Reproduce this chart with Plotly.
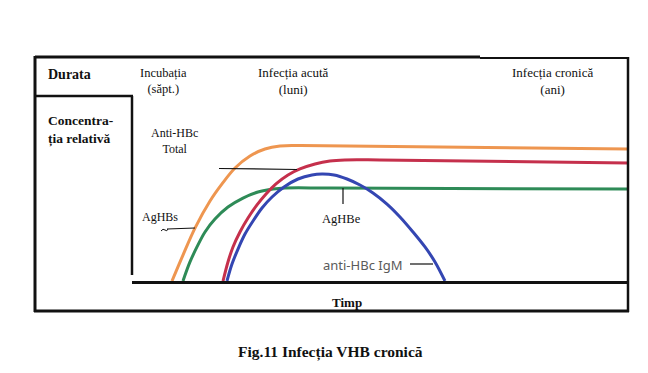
import plotly.graph_objects as go

# ---- data (time in arbitrary units 0..100, relative concentration 0..1) ----
anti_hbc_total_t = [8.06, 10.28, 12.70, 15.73, 18.15, 20.77, 23.79, 26.81, 29.84, 34.0, 100.0]
anti_hbc_total_c = [0.0, 0.173, 0.353, 0.533, 0.647, 0.753, 0.833, 0.88, 0.90, 0.903, 0.88]

red_t = [18.35, 19.35, 20.36, 21.77, 23.39, 25.2, 27.02, 29.03, 31.45, 33.87, 36.9, 39.9, 42.9, 50.0, 100.0]
red_c = [0.0, 0.127, 0.227, 0.327, 0.42, 0.507, 0.58, 0.647, 0.707, 0.747, 0.78, 0.80, 0.807, 0.807, 0.787]

aghbs_t = [10.28, 11.69, 13.10, 14.72, 16.73, 19.35, 22.38, 25.40, 28.43, 30.85, 40.0, 100.0]
aghbs_c = [0.0, 0.127, 0.227, 0.327, 0.413, 0.493, 0.553, 0.593, 0.613, 0.62, 0.62, 0.613]

igm_t = [19.15, 20.16, 21.37, 22.78, 24.4, 26.21, 28.23, 30.65, 33.47, 36.29, 38.31,
         40.73, 43.35, 45.97, 48.59, 51.41, 54.03, 56.65, 59.07, 61.09, 63.1]
igm_c = [0.0, 0.113, 0.213, 0.313, 0.40, 0.487, 0.56, 0.627, 0.68, 0.707, 0.713,
         0.707, 0.68, 0.64, 0.587, 0.513, 0.427, 0.327, 0.227, 0.127, 0.0]

W, H = 648, 373
SERIF = "Liberation Serif, Times New Roman, serif"


def px(x):
    return x / W


def py(y):
    return 1 - y / H


fig = go.Figure()
series = [
    (anti_hbc_total_t, anti_hbc_total_c, "#EE9650"),
    (aghbs_t, aghbs_c, "#2E8B57"),
    (red_t, red_c, "#C5304C"),
    (igm_t, igm_c, "#3446B2"),
]
for t, c, col in series:
    fig.add_trace(go.Scatter(x=t, y=c, mode="lines",
                             line=dict(color=col, width=3, shape="spline", smoothing=1.0),
                             hoverinfo="skip", showlegend=False))

shapes = []


def seg(x0, y0, x1, y1, w=2.5, col="#111111"):
    shapes.append(dict(type="line", xref="paper", yref="paper",
                       x0=px(x0), y0=py(y0), x1=px(x1), y1=py(y1),
                       line=dict(color=col, width=w)))


# frame
seg(35, 57, 480, 57, 3)
seg(480, 58, 629, 58, 2)
seg(628, 57, 628, 312, 2.5)
seg(35, 56, 35, 312, 3)
seg(34, 311, 629, 311, 3)
seg(35, 96, 133, 96, 2.5)
seg(132, 96, 132, 275, 2.5)
# pointer lines
seg(219, 168.5, 297, 169.5, 1.2)
seg(343, 188, 343, 204, 1.2)
seg(167, 229, 195, 228, 1.2)
shapes.append(dict(type="path", xref="paper", yref="paper",
                   path=f"M {px(161)},{py(231)} Q {px(163)},{py(228)} {px(165)},{py(230)} T {px(168)},{py(229)}",
                   line=dict(color="#111111", width=1)))
seg(410, 264, 433, 264, 1.2)

ann = []


def txt(x, y, s, size=12, bold=False, anchor="center", family=SERIF, color="#111111"):
    if bold:
        s = "<b>" + s + "</b>"
    ann.append(dict(xref="paper", yref="paper", x=px(x), y=py(y), text=s, showarrow=False,
                    xanchor=anchor, yanchor="middle", align=anchor,
                    font=dict(family=family, size=size, color=color)))


txt(46, 74, "Durata", 14, True, "left")
txt(163, 81, "Incubația<br>(săpt.)", 12.5)
txt(293, 81, "Infecția acută<br>(luni)", 13)
txt(552, 81, "Infecția cronică<br>(ani)", 13)
txt(46, 130, "Concentra-<br>ția relativă", 13.5, True, "left")
txt(174, 141, "Anti-HBc<br>Total", 12)
txt(160, 217, "AgHBs", 12)
txt(341, 219, "AgHBe", 12.5)
txt(362, 265, "anti-HBc IgM", 13, False, "center", "Noto Sans", "#5a5a5a")
txt(347, 302, "Timp", 13, True)
txt(330, 352, "Fig.11 Infecția VHB cronică", 15.5, True)

fig.update_layout(
    width=W, height=H, margin=dict(l=0, r=0, t=0, b=0, pad=0),
    paper_bgcolor="white", plot_bgcolor="rgba(0,0,0,0)",
    shapes=shapes, annotations=ann, showlegend=False,
    xaxis=dict(domain=[px(132), px(628)], range=[0, 100], showgrid=False, zeroline=False,
               showticklabels=False, ticks="", showline=True, linecolor="#111111", linewidth=3),
    yaxis=dict(domain=[py(281), py(131)], range=[0, 1], showgrid=False, zeroline=False,
               showticklabels=False, ticks="", showline=False),
)

fig.write_html("out.html")
